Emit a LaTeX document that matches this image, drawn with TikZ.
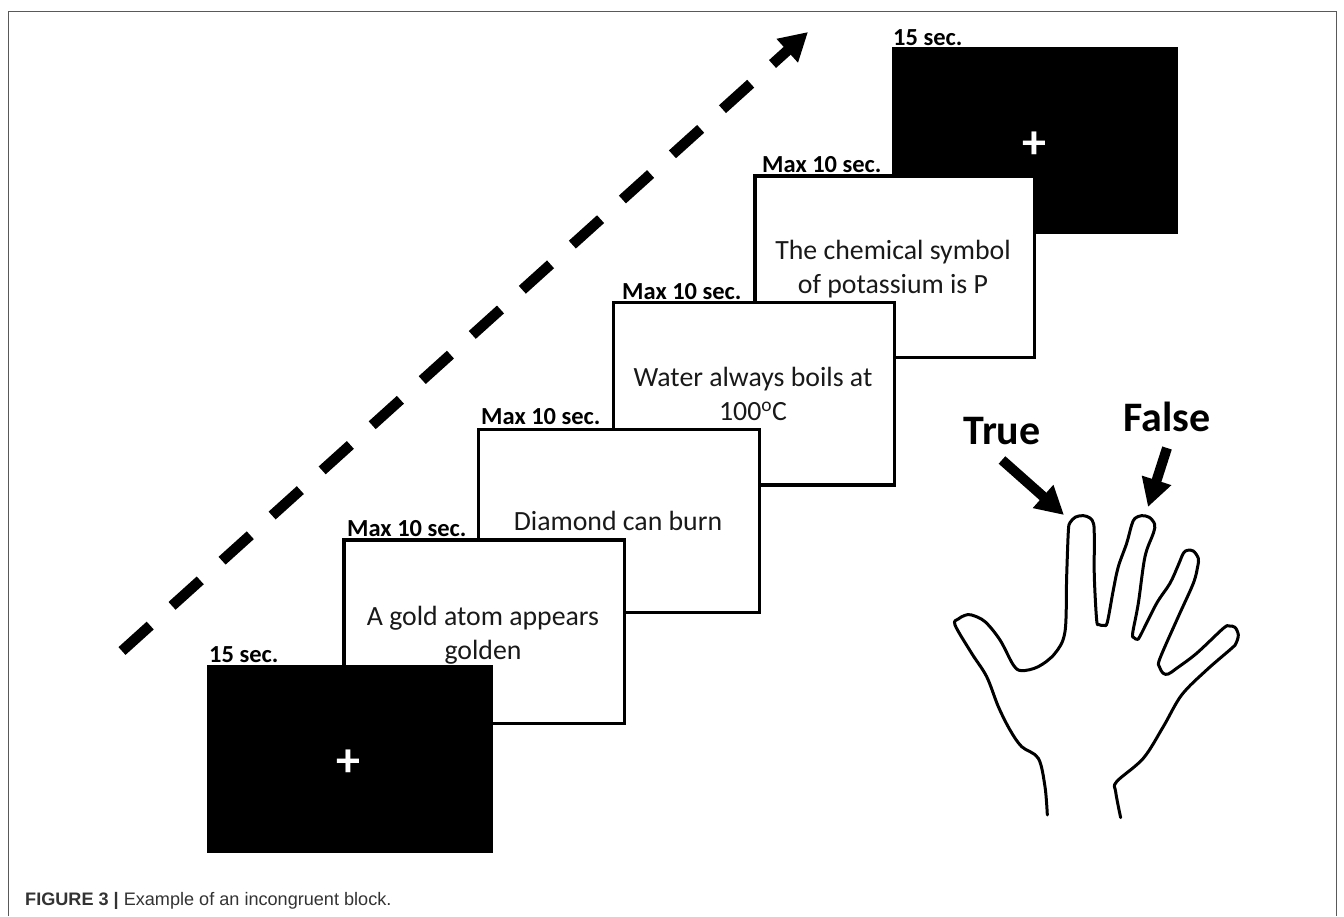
\documentclass[tikz,border=0pt]{standalone}
\usepackage{fontspec}
\setmainfont{Carlito}
\newfontfamily\capfont{Liberation Sans}
\usetikzlibrary{arrows.meta}
\tikzset{
  blackbox/.style={draw=black,fill=black,line width=0pt,inner sep=0pt,outer sep=0pt},
  whitebox/.style={draw=black,fill=white,line width=3.5pt,inner sep=0pt,outer sep=0pt},
  dur/.style={anchor=base west,inner sep=0pt,font=\fontsize{24.5}{26}\selectfont\bfseries},
  stmt/.style={align=center,inner sep=0pt,text=black!90,font=\fontsize{27.8}{33.5}\selectfont},
  plus/.style={text=white,inner sep=0pt,font=\fontsize{48}{48}\selectfont\bfseries},
  resp/.style={inner sep=0pt,font=\fontsize{42}{46}\selectfont\bfseries},
  fatarrow/.style={line width=10pt,-{Triangle[length=28pt,width=29pt]}},
  frameline/.style={draw=black!65,line width=1pt},
  handline/.style={line width=3pt,line join=round,line cap=round}
}
\begin{document}
\begin{tikzpicture}[x=1pt,y=-1pt]
\useasboundingbox[fill=white] (0,0) rectangle (1344,916);
\draw[frameline] (8,916) -- (8,11) -- (1336,11) -- (1336,916);
% screens, back to front
\node[blackbox,minimum width=284.5pt,minimum height=186pt] (fixB) at (1034.75,140.3) {};
\node[plus] (plusB) at (1034,145) {+};
\node[whitebox,minimum width=279.7pt,minimum height=181.3pt] (s4) at (894.85,266.65) {};
\node[whitebox,minimum width=281pt,minimum height=182.5pt] (s3) at (754.2,393.75) {};
\node[whitebox,minimum width=281.4pt,minimum height=183pt] (s2) at (619,520.8) {};
\node[whitebox,minimum width=280.5pt,minimum height=183.3pt] (s1) at (484.25,631.65) {};
\node[blackbox,minimum width=285pt,minimum height=187pt] (fixA) at (349.5,758.5) {};
\node[plus] (plusA) at (348,763) {+};
% durations
\node[dur] (d6) at (893,45) {15 sec.};
\node[dur] (d5) at (762,172) {Max 10 sec.};
\node[dur] (d4) at (622,299) {Max 10 sec.};
\node[dur] (d3) at (481,424) {Max 10 sec.};
\node[dur] (d2) at (347,536) {Max 10 sec.};
\node[dur] (d1) at (209,662) {15 sec.};
% statements
\node[stmt] (t4) at (893,269) {The chemical symbol\\of potassium is P};
\node[stmt] (t3) at (753,394) {Water always boils at\\100\textsuperscript{o}C};
\node[stmt] (t2) at (618,521) {Diamond can burn};
\node[stmt] (t1) at (483,635) {A gold atom appears\\golden};
% time arrow
\coordinate (timeA) at (122,651);
\coordinate (timeB) at (808,32);
\draw[line width=10.5pt,dash pattern=on 38pt off 29.4pt,-{Triangle[length=28pt,width=30pt]}] (timeA) -- (timeB);
% responses
\node[resp] (true) at (1002,431) {True};
\node[resp] (false) at (1167,417) {False};
\coordinate (trueA) at (1002,460);
\coordinate (trueB) at (1064,515);
\coordinate (falseA) at (1167,448);
\coordinate (falseB) at (1148,507);
\draw[fatarrow] (trueA) -- (trueB);
\draw[fatarrow] (falseA) -- (falseB);
% hand outline
\begin{scope}[shift={(930,390)},x=0.3333pt,y=-0.3333pt]
\draw[handline] plot[smooth,tension=0.55] coordinates {
(352,1275)(345,1190)(325,1105)(275,1070)(240,1020)(205,950)(170,860)(125,790)(75,705)(85,687)(105,676)(125,675)(165,695)(210,750)(250,825)(275,842)(325,830)(375,790)(405,725)(410,560)(415,425)(420,398)(437,381)(460,377)(480,384)(491,402)(493,450)(493,560)(500,690)(507,704)(522,706)(532,697)(550,600)(565,530)(590,460)(605,405)(615,385)(635,377)(658,382)(674,403)(670,430)(645,500)(625,640)(608,730)(612,743)(622,748)(632,735)(680,640)(720,580)(745,525)(760,490)(772,481)(790,483)(805,505)(803,530)(790,580)(745,680)(690,805)(688,830)(700,850)(715,852)(740,835)(800,790)(880,715)(897,708)(915,712)(925,735)(918,760)(905,775)(830,840)(755,915)(700,1010)(640,1105)(560,1175)(557,1205)(572,1283)};
\end{scope}
% caption
\node[anchor=base west,inner sep=0pt,text=black!80,font=\fontsize{18.1}{20}\selectfont\capfont] (cap) at (25,905) {\textbf{FIGURE 3 |} Example of an incongruent block.};
\end{tikzpicture}
\end{document}
